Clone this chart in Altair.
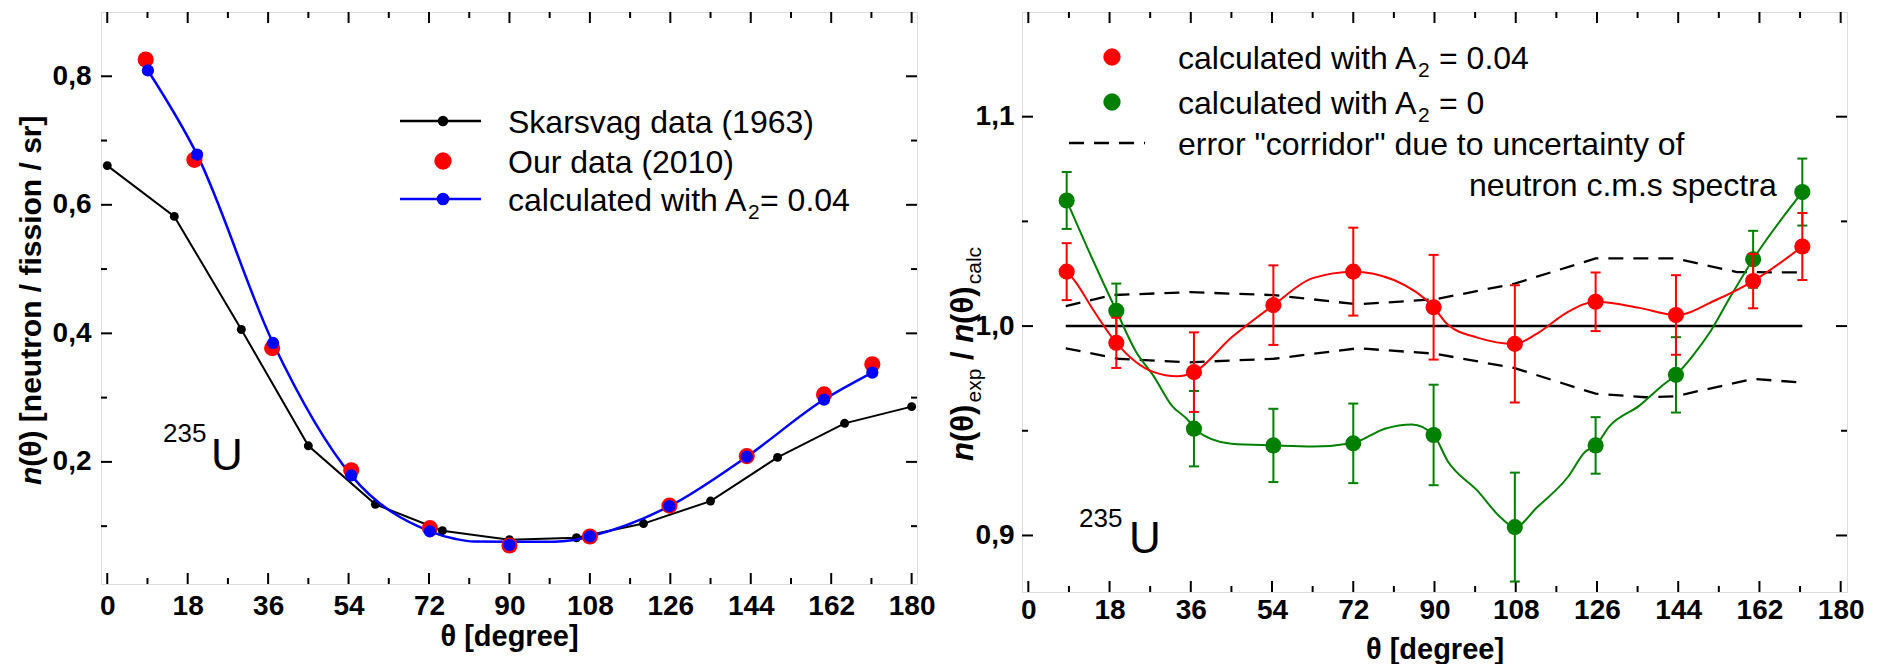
import altair as alt
import pandas as pd

FONT = "Liberation Sans"

# ---------------- left panel data ----------------
sk_theta = [0, 15, 30, 45, 60, 75, 90, 105, 120, 135, 150, 165, 180]
sk_n = [0.661, 0.582, 0.406, 0.225, 0.134, 0.093, 0.079, 0.082, 0.104, 0.139, 0.207, 0.260, 0.286]

our_theta = [8.6, 19.5, 36.9, 54.6, 72.2, 90.0, 108.0, 125.8, 143.1, 160.4, 171.2]
our_n = [0.826, 0.670, 0.377, 0.187, 0.097, 0.070, 0.084, 0.132, 0.209, 0.305, 0.352]

calc_theta = [9.1, 20.1, 37.1, 54.6, 72.2, 90.0, 108.0, 125.8, 143.1, 160.4, 171.2]
calc_n = [0.809, 0.678, 0.385, 0.179, 0.092, 0.071, 0.084, 0.131, 0.208, 0.297, 0.339]

calc_curve_theta = [9.1, 20.1, 37.1, 54.6, 72.2, 78.0, 82.0, 90.0, 100.0, 104.0, 108.0, 125.8, 143.1, 160.4, 171.2]
calc_curve_n = [0.809, 0.678, 0.385, 0.179, 0.092, 0.080, 0.076, 0.0757, 0.0757, 0.078, 0.084, 0.131, 0.208, 0.297, 0.339]

# ---------------- right panel data ----------------
ratio_theta = [8.5, 19.5, 36.7, 54.3, 72.0, 89.8, 107.8, 125.7, 143.5, 160.6, 171.5]
red_ratio = [1.026, 0.992, 0.978, 1.010, 1.026, 1.009, 0.9915, 1.0116, 1.0053, 1.0215, 1.038]
red_err = [0.0136, 0.012, 0.019, 0.019, 0.021, 0.025, 0.028, 0.014, 0.019, 0.013, 0.016]
green_ratio = [1.060, 1.0073, 0.951, 0.943, 0.944, 0.948, 0.904, 0.943, 0.9767, 1.0319, 1.064]
green_err = [0.0136, 0.013, 0.018, 0.0175, 0.019, 0.024, 0.026, 0.0135, 0.018, 0.0136, 0.016]

red_curve_theta = [8.5, 10.5, 14.0, 19.5, 27.8, 33.0, 36.7, 45.0, 54.3, 63.0, 72.0, 81.0, 89.8, 93.0, 99.5, 107.8, 112.8, 119.5, 125.7, 135.4, 143.5, 152.7, 160.6, 171.5]
red_curve_val = [1.026, 1.021, 1.009, 0.992, 0.978, 0.976, 0.978, 0.9945, 1.010, 1.0229, 1.026, 1.022, 1.009, 1.0006, 0.9945, 0.9915, 0.9965, 1.0067, 1.0116, 1.0087, 1.0053, 1.0128, 1.0215, 1.038]

green_curve_theta = [8.5, 14.0, 19.5, 23.8, 27.8, 31.8, 35.8, 36.7, 45.0, 54.3, 63.0, 72.0, 79.0, 85.0, 89.8, 92.9, 99.5, 104.8, 107.8, 112.8, 119.5, 123.4, 125.7, 128.7, 135.4, 140.7, 143.5, 147.3, 151.3, 155.3, 160.6, 171.5]
green_curve_val = [1.060, 1.033, 1.0073, 0.988, 0.976, 0.962, 0.954, 0.951, 0.9438, 0.943, 0.9425, 0.9442, 0.951, 0.953, 0.948, 0.9356, 0.9214, 0.9083, 0.904, 0.9136, 0.9278, 0.940, 0.943, 0.952, 0.962, 0.972, 0.9767, 0.986, 0.998, 1.013, 1.0319, 1.064]

corr_up_theta = [8.3, 18.5, 36.0, 45.0, 54.4, 73.0, 90.2, 107.8, 125.7, 143.4, 157.0, 171.5]
corr_up_val = [1.0095, 1.0148, 1.0162, 1.0155, 1.0148, 1.0104, 1.0128, 1.0203, 1.0323, 1.0323, 1.0258, 1.0256]
corr_lo_theta = [8.3, 19.9, 35.8, 54.4, 73.0, 90.2, 107.8, 125.7, 136.7, 143.4, 160.6, 171.5]
corr_lo_val = [0.9894, 0.9844, 0.9827, 0.9844, 0.9894, 0.9868, 0.9799, 0.9677, 0.966, 0.9665, 0.9748, 0.973]

unity_theta = [8.3, 171.5]
unity_val = [1.0, 1.0]

# ---------------- axes ----------------
x_major = [0, 18, 36, 54, 72, 90, 108, 126, 144, 162, 180]
x_minor = [9, 27, 45, 63, 81, 99, 117, 135, 153, 171]
left_y_major = [0.2, 0.4, 0.6, 0.8]
left_y_minor = [0.1, 0.3, 0.5, 0.7]
right_y_major = [0.9, 1.0, 1.1]
right_y_minor = [0.95, 1.05]

LW, LH = 816, 572
RW, RH = 825, 580
left_x_domain = [-1.4, 181.2]
left_y_domain = [0.01, 0.9]
right_x_domain = [-1.4, 181.4]
right_y_domain = [0.873, 1.15]

COMMA = "replace(format(datum.value, '.1f'), '.', ',')"
LABEL_SIZE = 28


def make_encoders(xdom, ydom, yvals, xlabpad, ylabpad, xtitlepad):
    xs = alt.Scale(domain=xdom, nice=False, zero=False)
    ys = alt.Scale(domain=ydom, nice=False, zero=False)
    xaxis = alt.Axis(values=x_major, format="d", title="θ [degree]", titleFont=FONT,
                     titleFontSize=29, titleFontWeight="bold", titleColor="black",
                     titlePadding=xtitlepad, labelFont=FONT, labelFontSize=LABEL_SIZE,
                     labelFontWeight="bold", labelColor="black", labelPadding=xlabpad,
                     labelFlush=False, labelOverlap=False, ticks=False, tickSize=0,
                     domain=False, grid=False)
    yaxis = alt.Axis(values=yvals, labelExpr=COMMA, title=None, labelFont=FONT,
                     labelFontSize=LABEL_SIZE, labelFontWeight="bold", labelColor="black",
                     labelPadding=ylabpad, labelFlush=False, labelOverlap=False,
                     ticks=False, tickSize=0, domain=False, grid=False)

    def X(f):
        return alt.X(f, type="quantitative", scale=xs, axis=xaxis)

    def Y(f):
        return alt.Y(f, type="quantitative", scale=ys, axis=yaxis)

    return X, Y


def tick_layers(X, Y, W, H, xmaj, xmin, ymaj, ymin):
    layers = []
    for vals, ln in ((xmaj, 11), (xmin, 6)):
        d = pd.DataFrame({"v": vals})
        layers.append(alt.Chart(d).mark_rule(color="black", strokeWidth=2).encode(
            x=X("v"), y=alt.value(H), y2=alt.value(H - ln)))
        layers.append(alt.Chart(d).mark_rule(color="black", strokeWidth=2).encode(
            x=X("v"), y=alt.value(0), y2=alt.value(ln)))
    for vals, ln in ((ymaj, 11), (ymin, 6)):
        d = pd.DataFrame({"v": vals})
        layers.append(alt.Chart(d).mark_rule(color="black", strokeWidth=2).encode(
            y=Y("v"), x=alt.value(0), x2=alt.value(ln)))
        layers.append(alt.Chart(d).mark_rule(color="black", strokeWidth=2).encode(
            y=Y("v"), x=alt.value(W), x2=alt.value(W - ln)))
    return layers


def txt(s, x, y, size, weight="normal", style="normal", angle=0, align="left",
        baseline="alphabetic", color="black"):
    return alt.Chart(pd.DataFrame({"t": [s]})).mark_text(
        font=FONT, fontSize=size, fontWeight=weight, fontStyle=style, angle=angle,
        align=align, baseline=baseline, color=color).encode(
        x=alt.value(x), y=alt.value(y), text="t:N")


def dot(x, y, color, size):
    return alt.Chart(pd.DataFrame({"a": [0]})).mark_circle(color=color, size=size, opacity=1).encode(
        x=alt.value(x), y=alt.value(y))


def hline(x1, x2, y, color, dash=None, width=2.5):
    kw = dict(color=color, strokeWidth=width)
    if dash is not None:
        kw["strokeDash"] = dash
    return alt.Chart(pd.DataFrame({"a": [0]})).mark_rule(**kw).encode(
        x=alt.value(x1), x2=alt.value(x2), y=alt.value(y))


# ================= LEFT PANEL =================
LX, LY = make_encoders(left_x_domain, left_y_domain, left_y_major, 8, 10, 2)

df_sk = pd.DataFrame({"theta": sk_theta, "n": sk_n})
df_our = pd.DataFrame({"theta": our_theta, "n": our_n})
df_calc = pd.DataFrame({"theta": calc_theta, "n": calc_n})
df_calc_curve = pd.DataFrame({"theta": calc_curve_theta, "n": calc_curve_n})

left_layers = tick_layers(LX, LY, LW, LH, x_major, x_minor, left_y_major, left_y_minor)
left_layers += [
    alt.Chart(df_sk).mark_line(color="black", strokeWidth=2).encode(x=LX("theta"), y=LY("n")),
    alt.Chart(df_sk).mark_circle(color="black", size=80, opacity=1).encode(x=LX("theta"), y=LY("n")),
    alt.Chart(df_calc_curve).mark_line(color="#0000FF", strokeWidth=2.5, interpolate="monotone").encode(
        x=LX("theta"), y=LY("n")),
    alt.Chart(df_our).mark_circle(color="#FF0000", size=260, opacity=1).encode(x=LX("theta"), y=LY("n")),
    alt.Chart(df_calc).mark_circle(color="#0000FF", size=150, opacity=1).encode(x=LX("theta"), y=LY("n")),
    # legend
    hline(299, 380, 109, "black", width=2.5),
    dot(342, 109, "black", 110),
    dot(342, 149, "#FF0000", 300),
    hline(299, 380, 187, "#0000FF", width=2.5),
    dot(342, 187, "#0000FF", 160),
    txt("Skarsvag data (1963)", 407, 120.5, 32),
    txt("Our data (2010)", 407, 160.5, 32),
    txt("calculated with A", 407, 198.5, 32),
    txt("2", 647, 207, 21),
    txt("= 0.04", 659, 198.5, 32),
    # isotope label
    txt("235", 62, 430, 26),
    txt("U", 110, 458, 44),
    # y title
    txt("n", -60, 473, 30, weight="bold", style="italic", angle=270),
    txt("(θ) [neutron / fission / sr]", -60, 454.7, 30, weight="bold", angle=270),
]
left = alt.layer(*left_layers).properties(width=LW, height=LH)

# ================= RIGHT PANEL =================
RX, RY = make_encoders(right_x_domain, right_y_domain, right_y_major, 4, 8, 11)

df_r = pd.DataFrame({"theta": ratio_theta, "red": red_ratio, "rerr": red_err,
                     "green": green_ratio, "gerr": green_err})
df_r["red_lo"] = df_r["red"] - df_r["rerr"]
df_r["red_hi"] = df_r["red"] + df_r["rerr"]
df_r["green_lo"] = df_r["green"] - df_r["gerr"]
df_r["green_hi"] = df_r["green"] + df_r["gerr"]

df_rc = pd.DataFrame({"theta": red_curve_theta, "v": red_curve_val})
df_gc = pd.DataFrame({"theta": green_curve_theta, "v": green_curve_val})
df_up = pd.DataFrame({"theta": corr_up_theta, "v": corr_up_val})
df_lo = pd.DataFrame({"theta": corr_lo_theta, "v": corr_lo_val})
df_one = pd.DataFrame({"theta": unity_theta, "v": unity_val})

RED = "#FF0000"
GREEN = "#008000"


def errbars(col, color):
    base = alt.Chart(df_r)
    return [
        base.mark_rule(color=color, strokeWidth=2).encode(
            x=RX("theta"), y=RY(col + "_lo"), y2=alt.Y2(col + "_hi")),
        base.mark_rule(color=color, strokeWidth=2, xOffset=-5, x2Offset=5).encode(
            x=RX("theta"), x2=alt.X2("theta"), y=RY(col + "_hi")),
        base.mark_rule(color=color, strokeWidth=2, xOffset=-5, x2Offset=5).encode(
            x=RX("theta"), x2=alt.X2("theta"), y=RY(col + "_lo")),
    ]


right_layers = tick_layers(RX, RY, RW, RH, x_major, x_minor, right_y_major, right_y_minor)
right_layers += [
    alt.Chart(df_up).mark_line(color="black", strokeWidth=2.3, strokeDash=[15, 10]).encode(
        x=RX("theta"), y=RY("v")),
    alt.Chart(df_lo).mark_line(color="black", strokeWidth=2.3, strokeDash=[15, 10]).encode(
        x=RX("theta"), y=RY("v")),
    alt.Chart(df_one).mark_line(color="black", strokeWidth=2.5).encode(x=RX("theta"), y=RY("v")),
    alt.Chart(df_gc).mark_line(color=GREEN, strokeWidth=2, interpolate="monotone").encode(
        x=RX("theta"), y=RY("v")),
    alt.Chart(df_rc).mark_line(color=RED, strokeWidth=2, interpolate="monotone").encode(
        x=RX("theta"), y=RY("v")),
]
right_layers += errbars("green", GREEN)
right_layers += [
    alt.Chart(df_r).mark_circle(color=GREEN, size=260, opacity=1).encode(x=RX("theta"), y=RY("green")),
]
right_layers += errbars("red", RED)
right_layers += [
    alt.Chart(df_r).mark_circle(color=RED, size=260, opacity=1).encode(x=RX("theta"), y=RY("red")),
    # legend
    dot(90, 45, RED, 300),
    dot(90, 90, GREEN, 300),
    hline(47, 123, 131, "black", dash=[15, 10], width=2.3),
    txt("calculated with A", 156, 56.5, 32),
    txt("2", 396, 65, 21),
    txt("= 0.04", 417, 56.5, 32),
    txt("calculated with A", 156, 101.5, 32),
    txt("2", 396, 110, 21),
    txt("= 0", 417, 101.5, 32),
    txt('error "corridor" due to uncertainty of', 156, 142.5, 32),
    txt("neutron c.m.s spectra", 447, 183.5, 32),
    # isotope label
    txt("235", 57, 515, 26),
    txt("U", 107, 541, 44),
    # y title: n(θ)exp / n(θ)calc
    txt("n", -49, 449, 31, weight="bold", style="italic", angle=270),
    txt("(θ)", -49, 430.1, 31, weight="bold", angle=270),
    txt("exp", -41, 390.5, 21, angle=270),
    txt("/", -49, 348, 31, weight="bold", angle=270),
    txt("n", -49, 330.8, 31, weight="bold", style="italic", angle=270),
    txt("(θ)", -49, 311.9, 31, weight="bold", angle=270),
    txt("calc", -41, 272.3, 21, angle=270),
]
right = alt.layer(*right_layers).properties(width=RW, height=RH)

chart = alt.hconcat(left, right, spacing=105, bounds="flush").properties(
    padding={"left": 8, "top": 2, "right": 0, "bottom": 0}
).configure_view(stroke="black", strokeWidth=2.5).configure(font=FONT, background="white")

chart.save("out.html", embed_options={"renderer": "svg", "actions": False})
